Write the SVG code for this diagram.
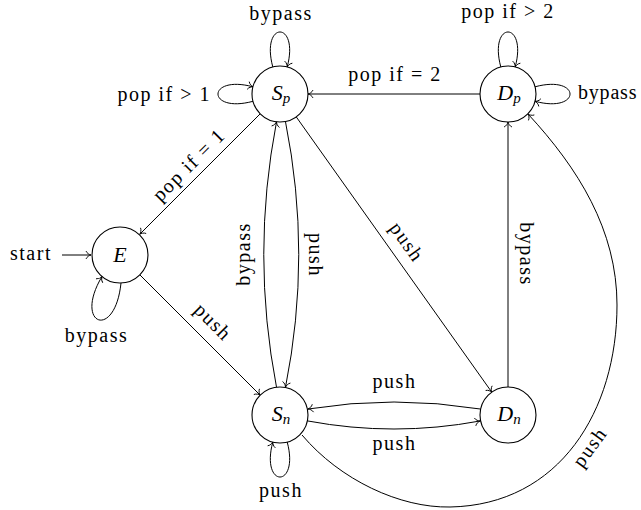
<svg xmlns="http://www.w3.org/2000/svg" width="641" height="510" viewBox="0 0 641 510">
<style>
.node circle{fill:#fff;stroke:#000;stroke-width:1.1}
.nl{font-family:"Liberation Serif","Times New Roman","DejaVu Serif",serif;font-style:italic;font-size:22px;fill:#000}
.lbl{font-family:"Liberation Serif","Times New Roman","DejaVu Serif",serif;font-size:20px;letter-spacing:1.5px;fill:#000}
.edges path{fill:none;stroke:#000;stroke-width:1;marker-end:url(#arr)}
</style>
<defs>
<marker id="arr" markerUnits="userSpaceOnUse" viewBox="-7 -6 8 12" refX="0" refY="0" markerWidth="8" markerHeight="12" orient="auto" overflow="visible">
<path d="M-5,-4 C-4,-1.6 -1.6,-0.4 0,0 C-1.6,0.4 -4,1.6 -5,4" fill="none" stroke="#000" stroke-width="0.9"/>
</marker>
</defs>
<rect width="641" height="510" fill="#fff"/>
<g class="edges" id="connectors">
<path d="M62,255 L91,255"/>
<path d="M121,283 C115,341 73,325 102,276.5"/>
<path d="M139.8,274.8 L260.2,395.2"/>
<path d="M260.2,113.8 L139.8,234.2"/>
<path d="M272.8,67 C260.3,20.3 299.7,20.3 287.2,67"/>
<path d="M253,101.3 C206.3,113.8 206.3,74.3 253,86.8"/>
<path d="M276.5,387.2 Q251,254.5 276.5,121.8"/>
<path d="M285.5,121.8 Q312,254.5 285.5,387.2"/>
<path d="M296.2,116.8 L491.8,392.2"/>
<path d="M480,94 L308,94"/>
<path d="M500.8,67 C488.3,20.3 527.7,20.3 515.2,67"/>
<path d="M535,86.8 C581.7,74.3 581.7,113.8 535,101.3"/>
<path d="M508,387 L508,122"/>
<path d="M480.3,409 Q394,395 308,409"/>
<path d="M308,421 Q394,437 480,421"/>
<path d="M287.2,442 C299.7,488.7 260.3,488.7 272.8,442"/>
<path d="M302,435 C340,480 400,508 450,507 C560,505 617,410 617,305 C617,230 578,168 528,114"/>
</g>
<g id="E" class="node"><circle cx="120" cy="255" r="28"/><text class="nl" x="120" y="262" text-anchor="middle">E</text></g>
<g id="Sp" class="node"><circle cx="280" cy="94" r="28"/><text class="nl" x="281" y="100" text-anchor="middle">S<tspan font-size="15" dy="3">p</tspan></text></g>
<g id="Dp" class="node"><circle cx="508" cy="94" r="28"/><text class="nl" x="509" y="100" text-anchor="middle">D<tspan font-size="15" dy="3">p</tspan></text></g>
<g id="Sn" class="node"><circle cx="280" cy="415" r="28"/><text class="nl" x="281" y="421" text-anchor="middle">S<tspan font-size="15" dy="3">n</tspan></text></g>
<g id="Dn" class="node"><circle cx="508" cy="415" r="28"/><text class="nl" x="509" y="421" text-anchor="middle">D<tspan font-size="15" dy="3">n</tspan></text></g>
<g id="labels">
<text class="lbl" x="10" y="259.5">start</text>
<text class="lbl" x="96.5" y="342" text-anchor="middle">bypass</text>
<text class="lbl" x="281" y="19.5" text-anchor="middle">bypass</text>
<text class="lbl" x="211" y="101" text-anchor="end">pop if &gt; 1</text>
<text class="lbl" x="395" y="81" text-anchor="middle">pop if = 2</text>
<text class="lbl" x="508" y="18" text-anchor="middle">pop if &gt; 2</text>
<text class="lbl" x="578" y="99" style="letter-spacing:0.8px">bypass</text>
<text class="lbl" x="394.5" y="388" text-anchor="middle">push</text>
<text class="lbl" x="394.5" y="450" text-anchor="middle">push</text>
<text class="lbl" x="281" y="497" text-anchor="middle">push</text>
<text class="lbl" transform="translate(190,166) rotate(-45)" x="0" y="5" text-anchor="middle">pop if = 1</text>
<text class="lbl" transform="translate(212,323) rotate(45)" x="0" y="5" text-anchor="middle">push</text>
<text class="lbl" transform="translate(245,254) rotate(-90)" x="0" y="5" text-anchor="middle">bypass</text>
<text class="lbl" transform="translate(314,255) rotate(90)" x="0" y="5" text-anchor="middle">push</text>
<text class="lbl" transform="translate(405.5,243) rotate(54.6)" x="0" y="5" text-anchor="middle">push</text>
<text class="lbl" transform="translate(525,254) rotate(90)" x="0" y="5" text-anchor="middle">bypass</text>
<text class="lbl" transform="translate(591,448) rotate(-54)" x="0" y="5" text-anchor="middle">push</text>
</g>
</svg>
